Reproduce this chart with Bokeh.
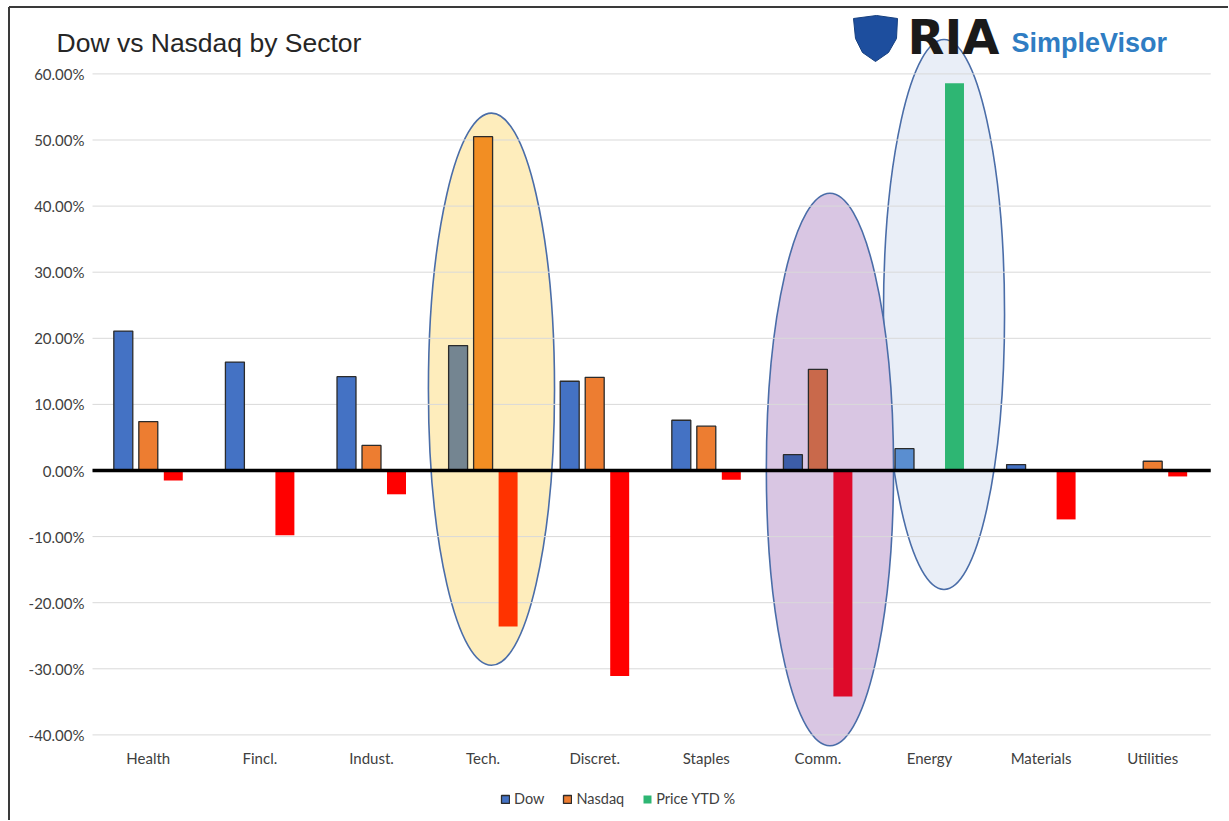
from bokeh.plotting import figure
from bokeh.models import Range1d, Legend, LegendItem, ColumnDataSource
from bokeh.embed import file_html
from bokeh.resources import INLINE
from bokeh.core.properties import value

# ---------------- data ----------------
sectors = ["Health", "Fincl.", "Indust.", "Tech.", "Discret.", "Staples",
           "Comm.", "Energy", "Materials", "Utilities"]
dow = [21.1, 16.4, 14.2, 18.9, 13.5, 7.6, 2.4, 3.3, 0.9, 0.0]
nasdaq = [7.4, 0.0, 3.8, 50.5, 14.1, 6.7, 15.3, 0.0, 0.0, 1.4]
price_ytd = [-1.5, -9.8, -3.6, -23.6, -31.1, -1.4, -34.2, 58.6, -7.4, -0.9]
y_ticks = [-40, -30, -20, -10, 0, 10, 20, 30, 40, 50, 60]
y_tick_labels = ["%.2f%%" % t for t in y_ticks]

# highlighted sectors (ellipses)
hl_sectors = ["Energy", "Tech.", "Comm."]
hl_center = [23.6, 12.3, 0.15]
hl_height = [83.2, 83.6, 83.6]

# ---------------- styles ----------------
dow_colors = ["#4472C4", "#4472C4", "#4472C4", "#748591", "#4472C4", "#4472C4",
              "#3C5DA8", "#5A8ED0", "#4472C4", "#4472C4"]
nas_colors = ["#ED7D31", "#ED7D31", "#ED7D31", "#F28E23", "#ED7D31", "#ED7D31",
              "#C9694B", "#ED7D31", "#ED7D31", "#ED7D31"]
price_colors = ["#FF0000", "#FF0000", "#FF0000", "#FF3300", "#FF0000", "#FF0000",
                "#DE0A2A", "#2EB673", "#FF0000", "#FF0000"]
hl_fill = ["#E9EEF7", "#FEEDBC", "#D9C6E3"]
hl_dx = [0.13, 0.075, 0.108]
hl_w = [1.085, 1.13, 1.14]

FONT = "Lato"
W, H = 1228, 820
X0PX, XUNIT = 92.0, 111.6     # left edge of the category band, px per category
Y0PX, YUNIT = 470.0, 6.61     # zero line, px per percent


def px2x(px):
    return (px - X0PX) / XUNIT


def py2y(py):
    return (Y0PX - py) / YUNIT


p = figure(x_range=Range1d(px2x(0), px2x(W)), y_range=Range1d(py2y(H), py2y(0)),
           width=W, height=H, output_backend="svg", toolbar_location=None,
           min_border=0, min_border_left=0, min_border_right=0,
           min_border_top=0, min_border_bottom=0)
p.outline_line_color = None
p.xaxis.visible = False
p.yaxis.visible = False
p.xgrid.grid_line_color = None
p.ygrid.grid_line_color = None

n = len(sectors)
xc = [i + 0.5 for i in range(n)]
BW = 0.17
OFF = 0.224

# frame border (left & top)
p.segment(x0=[px2x(8.5), px2x(8.5)], y0=[py2y(6.5), py2y(6.5)],
          x1=[px2x(8.5), px2x(W)], y1=[py2y(H), py2y(6.5)],
          line_color="#3a3a3a", line_width=2)

# logo (drawn below the ellipse outline)
shield_px = [(853, 18), (876, 15), (897, 18), (896, 38), (888, 52), (875, 61),
             (862, 52), (855, 38)]
p.patch([px2x(a) for a, b in shield_px], [py2y(b) for a, b in shield_px],
        fill_color="#1D4E9E", line_color="#16407F", line_width=1)

# ellipses
ell = ColumnDataSource(dict(
    x=[sectors.index(s) + 0.5 + d for s, d in zip(hl_sectors, hl_dx)],
    y=hl_center, w=hl_w, h=hl_height, fill=hl_fill))
p.ellipse(x="x", y="y", width="w", height="h", source=ell, fill_color="fill",
          line_color="#4A6DA8", line_width=1.6)

p.text(x=[px2x(907)], y=[py2y(36)], text=["RIA"], text_font=value("DejaVu Sans"),
       text_font_style="bold", text_font_size="48px", text_color="#1A1A1A",
       text_align="left", text_baseline="middle")
p.text(x=[px2x(1011)], y=[py2y(42)], text=["SimpleVisor"],
       text_font=value("Liberation Sans"), text_font_style="bold",
       text_font_size="27px", text_color="#2F7DC3",
       text_align="left", text_baseline="middle")

# gridlines
p.segment(x0=[0] * len(y_ticks), x1=[n + 0.02] * len(y_ticks), y0=y_ticks, y1=y_ticks,
          line_color="#D9D9D9", line_width=1)

src = ColumnDataSource(dict(xc=xc, dow=dow, nasdaq=nasdaq, price=price_ytd,
                            dc=dow_colors, nc=nas_colors, pc=price_colors,
                            xd=[x - OFF for x in xc], xp=[x + OFF for x in xc]))
r_dow = p.vbar(x="xd", top="dow", bottom=0, width=BW, source=src,
               fill_color="dc", line_color="#2B2B2B", line_width=1.3)
r_nas = p.vbar(x="xc", top="nasdaq", bottom=0, width=BW, source=src,
               fill_color="nc", line_color="#2B2B2B", line_width=1.3)
r_pr = p.vbar(x="xp", top="price", bottom=0, width=BW, source=src,
              fill_color="pc", line_color=None)

# zero line
p.line(x=[0, n + 0.02], y=[0, 0], line_color="black", line_width=3.5)

# y tick labels
p.text(x=[px2x(84)] * len(y_ticks), y=y_ticks, text=y_tick_labels,
       text_font=value(FONT), text_font_size="15px", text_color="#404040",
       text_align="right", text_baseline="middle")
# category labels
p.text(x=xc, y=[py2y(757)] * n, text=sectors,
       text_font=value(FONT), text_font_size="15px", text_color="#404040",
       text_align="center", text_baseline="middle")

# title
p.text(x=[px2x(56)], y=[py2y(42)], text=["Dow vs Nasdaq by Sector"],
       text_font=value("Liberation Sans"), text_font_size="26.5px",
       text_color="#262626", text_align="left", text_baseline="middle")

legend = Legend(items=[
    LegendItem(label="Dow", renderers=[r_dow], index=0),
    LegendItem(label="Nasdaq", renderers=[r_nas], index=0),
    LegendItem(label="Price YTD %", renderers=[r_pr], index=7),
], orientation="horizontal", location=(500, 13), border_line_color=None,
    background_fill_alpha=0, label_text_font=FONT, label_text_font_size="14.5px",
    label_text_color="#404040", glyph_height=10, glyph_width=10, spacing=18,
    padding=5, margin=0, label_standoff=4, label_height=14)
p.add_layout(legend, "center")

open("out.html", "w").write(file_html(p, INLINE))
